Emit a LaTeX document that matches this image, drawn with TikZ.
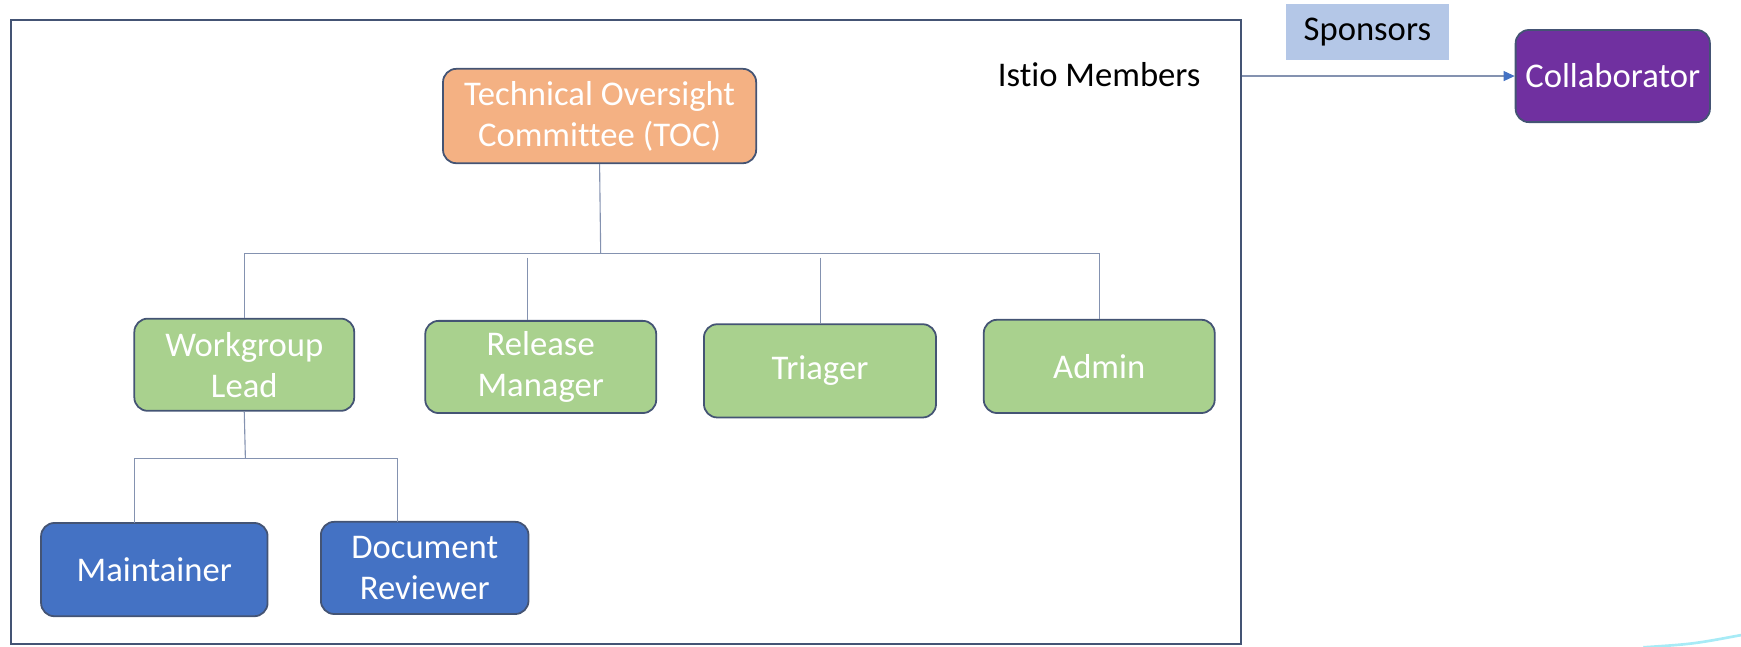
\documentclass[tikz,border=0pt]{standalone}
\usepackage{fontspec}
\setmainfont{Carlito}[Ligatures=NoCommon]
\usetikzlibrary{arrows.meta}
\definecolor{frame}{RGB}{68,84,116}
\definecolor{link}{RGB}{132,146,176}
\definecolor{tocfill}{RGB}{244,177,131}
\definecolor{rolefill}{RGB}{169,209,142}
\definecolor{memfill}{RGB}{68,114,196}
\definecolor{collfill}{RGB}{112,48,160}
\definecolor{sponsfill}{RGB}{180,199,231}
\begin{document}
\begin{tikzpicture}[x=0.5pt,y=-0.5pt,
    txt/.style={font=\fontsize{15.6}{18.5}\selectfont},
    box/.style={txt,draw=frame,line width=0.8pt,rounded corners=6pt,text=white,
      align=center,inner sep=0pt},
    link/.style={draw=link,line width=0.5pt}]
    \useasboundingbox (0,0) rectangle (1568,582);
    \node[draw=frame,line width=1pt,minimum width=554pt,minimum height=281pt] (members) at (564,299) {};
    \node[txt] (label) at (990,67) {Istio Members};
    \node[txt,fill=sponsfill,minimum width=73.5pt,minimum height=25pt] (spons) at (1231.5,29) {Sponsors};
    \node[box,fill=collfill,minimum width=87.5pt,minimum height=41.5pt] (coll) at (1452.5,68.5) {Collaborator};
    \draw[link,-{Triangle[length=5pt,width=4.5pt,color=memfill]}] (members.east |- coll.west) -- (coll.west);
    % TOC and its roles
    \node[box,fill=tocfill,minimum width=141pt,minimum height=42.5pt] (toc) at (540,104.5) {Technical Oversight\\Committee (TOC)};
    \node[box,fill=rolefill,minimum width=99pt,minimum height=41.5pt] (wg) at (220,328.5) {Workgroup\\Lead};
    \node[box,fill=rolefill,minimum width=104pt,minimum height=41.5pt] (rm) at (487,330.5) {Release\\Manager};
    \node[box,fill=rolefill,minimum width=104.5pt,minimum height=42pt] (tr) at (738.5,334) {Triager};
    \node[box,fill=rolefill,minimum width=104pt,minimum height=42pt] (ad) at (990,330) {Admin};
    \coordinate (bus) at (541,228);
    \coordinate (rmtop) at (475,232);
    \coordinate (trtop) at (739,232);
    \draw[link] (toc.south) -- (bus);
    \draw[link] (wg.north) |- (bus) -| (ad.north);
    \draw[link] (rmtop) -- (rmtop |- rm.north);
    \draw[link] (trtop) -- (trtop |- tr.north);
    % workgroup lead
    \node[box,fill=memfill,minimum width=102pt,minimum height=42pt] (mt) at (139,513) {Maintainer};
    \node[box,fill=memfill,minimum width=93.5pt,minimum height=41.5pt] (dr) at (382.5,511.5) {Document\\Reviewer};
    \coordinate (sub) at (221,413);
    \coordinate (mttop) at (121,471);
    \coordinate (drtop) at (358,470);
    \draw[link] (wg.south) -- (sub);
    \draw[link] (mttop) |- (sub) -| (drtop);
    \draw[sponsfill!60!cyan!60,line width=1.2pt] (1480,583) .. controls (1525,580) .. (1568,572);
\end{tikzpicture}
\end{document}
